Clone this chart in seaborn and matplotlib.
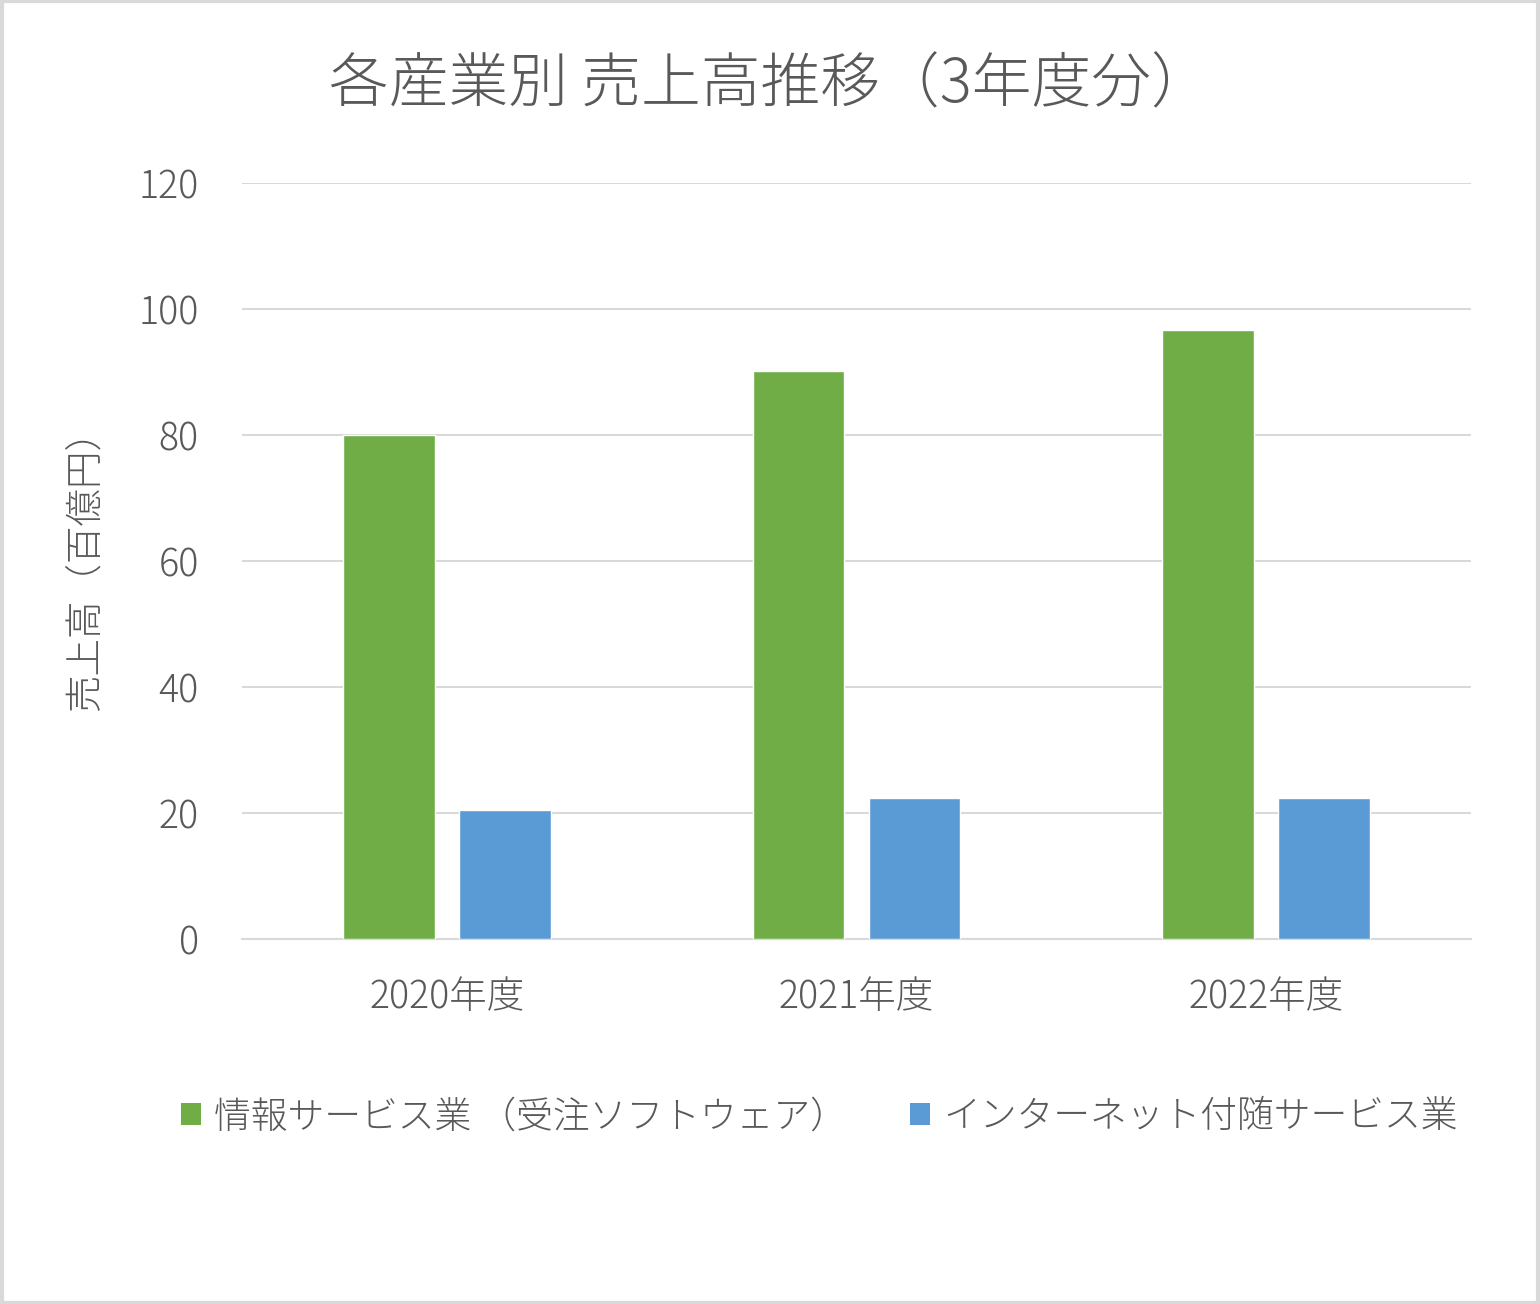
import matplotlib
matplotlib.use("Agg")
import matplotlib.pyplot as plt
import seaborn as sns
import pandas as pd
from matplotlib.patches import Patch, Rectangle

years = ["2020年度", "2021年度", "2022年度"]
series_names = ["情報サービス業 （受注ソフトウェア）", "インターネット付随サービス業"]
info_service = [80.0, 90.2, 96.7]
internet_service = [20.4, 22.4, 22.4]
yticks = [0, 20, 40, 60, 80, 100, 120]
colors = ["#70AD47", "#5B9BD5"]

df = pd.DataFrame({
    "year": years * 2,
    "value": info_service + internet_service,
    "series": [series_names[0]] * 3 + [series_names[1]] * 3,
})

sns.set_theme(style="white")
plt.rcParams["font.family"] = ["Noto Sans CJK JP", "DejaVu Sans"]

text_color = "#595959"
fig = plt.figure(figsize=(15.4, 13.04), dpi=100)
ax = fig.add_axes([242 / 1540, 1 - 939 / 1304, (1471 - 242) / 1540, (939 - 183) / 1304])

sns.barplot(data=df, x="year", y="value", hue="series", palette=colors,
            width=0.566, gap=0.21, saturation=1, ax=ax, legend=False, zorder=3)

ax.set_xlim(-0.5, 2.5)
ax.set_ylim(0, 120)
ax.set_yticks(yticks)
ax.set_yticklabels([str(v) for v in yticks])
ax.yaxis.grid(True, color="#D9D9D9", linewidth=1.5, zorder=0)
ax.set_axisbelow(True)
for s in ["top", "right", "left"]:
    ax.spines[s].set_visible(False)
ax.spines["bottom"].set_color("#D9D9D9")
ax.spines["bottom"].set_linewidth(1.5)
ax.tick_params(axis="both", length=0, labelsize=27, colors=text_color)
ax.tick_params(axis="y", pad=31)
ax.tick_params(axis="x", pad=28)
for lab in ax.get_xticklabels() + ax.get_yticklabels():
    lab.set_fontweight("light")
ax.set_xlabel("")
ax.set_ylabel("売上高（百億円）", fontsize=27, color=text_color, labelpad=24, fontweight="light")

fig.text(0.5, 1 - 86 / 1304, "各産業別 売上高推移（3年度分）", ha="center", va="center",
         fontsize=43, color=text_color, fontweight="light")

handles = [Patch(facecolor=c, edgecolor="none") for c in colors]
fig.legend(handles, series_names, loc="center", bbox_to_anchor=(0.532, 1 - 1117 / 1304),
           ncol=2, frameon=False, handlelength=0.55, handleheight=0.55,
           handletextpad=0.35, columnspacing=1.7, labelcolor=text_color,
           prop={"size": 26.5, "weight": "light"})

fig.patches.append(Rectangle((0.001, 0.001), 0.998, 0.998, transform=fig.transFigure,
                             fill=False, edgecolor="#D9D9D9", linewidth=3))

fig.savefig("out.png", dpi=100, facecolor="white")
